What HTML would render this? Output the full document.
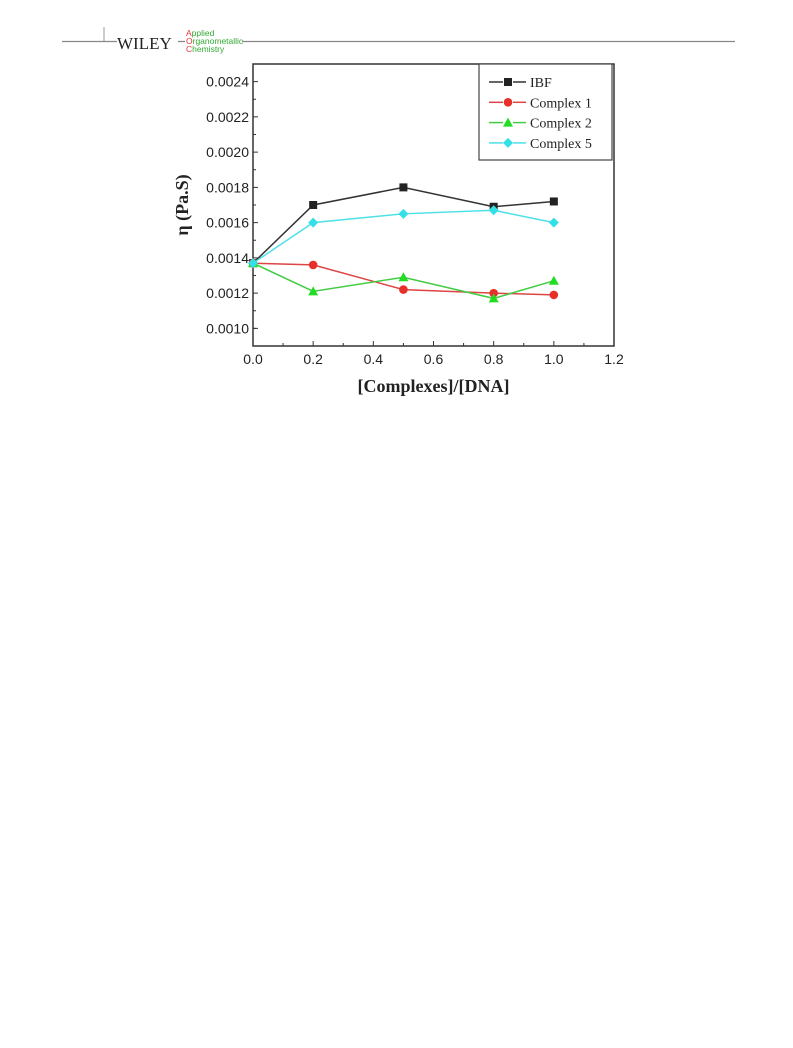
<!DOCTYPE html>
<html><head><meta charset="utf-8"><style>
body{margin:0;background:#fff;width:793px;height:1043px;overflow:hidden;font-family:"Liberation Sans",sans-serif}
</style></head><body>
<svg width="793" height="1043">
<g>
<line x1="62" y1="41.5" x2="117" y2="41.5" stroke="#888" stroke-width="1.3"/>
<line x1="104" y1="27" x2="104" y2="41" stroke="#999" stroke-width="1"/>
<text x="117" y="49" font-family="Liberation Serif" font-size="17" fill="#222">WILEY</text>
<line x1="178" y1="41.5" x2="185" y2="41.5" stroke="#888" stroke-width="1.3"/>
<text font-size="8.5" fill="#3a3"><tspan x="186" y="36"><tspan fill="#e33">A</tspan>pplied</tspan><tspan x="186" y="44"><tspan fill="#e33">O</tspan>rganometallic</tspan><tspan x="186" y="52"><tspan fill="#e33">C</tspan>hemistry</tspan></text>
<line x1="242" y1="41.5" x2="735" y2="41.5" stroke="#888" stroke-width="1.3"/>
</g>
<g id="chart"></g>
</svg>
<script>
const xTicks=[0.0,0.2,0.4,0.6,0.8,1.0,1.2];
const yTicks=[0.0010,0.0012,0.0014,0.0016,0.0018,0.0020,0.0022,0.0024];
const xVals=[0.0,0.2,0.5,0.8,1.0];
const ibf=[0.00137,0.00170,0.00180,0.00169,0.00172];
const complex1=[0.00137,0.00136,0.00122,0.00120,0.00119];
const complex2=[0.00137,0.00121,0.00129,0.00117,0.00127];
const complex5=[0.00137,0.00160,0.00165,0.00167,0.00160];
const seriesNames=["IBF","Complex 1","Complex 2","Complex 5"];
const NS="http://www.w3.org/2000/svg";
const L=253,R=614,T=64,B=346;
const xs=v=>L+(v-0)/1.2*(R-L);
const ys=v=>B-(v-0.0009)/0.0016*(B-T);
const g=document.getElementById('chart');
function mk(tag,at,parent){const e=document.createElementNS(NS,tag);for(const k in at)e.setAttribute(k,at[k]);(parent||g).appendChild(e);return e;}
let f=mk('rect',{x:L,y:T,width:R-L,height:B-T,fill:'none',stroke:'#333','stroke-width':1.5});


xTicks.forEach((t,i)=>{const x=xs(t);
 mk('line',{x1:x,y1:B,x2:x,y2:B-5,stroke:'#333'});
 if(i<xTicks.length-1)mk('line',{x1:xs(t+0.1),y1:B,x2:xs(t+0.1),y2:B-3,stroke:'#333'});
 const tx=mk('text',{x:x,y:B+18,'font-size':14,'text-anchor':'middle',fill:'#222'});tx.textContent=t.toFixed(1);
 
 });
yTicks.forEach(t=>{const y=ys(t);
 mk('line',{x1:L,y1:y,x2:L+5,y2:y,stroke:'#333'});
 mk('line',{x1:L,y1:ys(t+0.0001),x2:L+3,y2:ys(t+0.0001),stroke:'#333'});
 const tx=mk('text',{x:L-4,y:y+5,'font-size':14,'text-anchor':'end',fill:'#222'});tx.textContent=t.toFixed(4);
 
 });
mk('line',{x1:L,y1:ys(0.0009+0.0001),x2:L+3,y2:ys(0.0010),stroke:'#333'});
let xt=mk('text',{x:(L+R)/2,y:392,'font-size':18,'font-weight':'bold','font-family':'Liberation Serif','text-anchor':'middle',fill:'#222'});xt.textContent='[Complexes]/[DNA]';


let yt=mk('text',{x:0,y:0,'font-size':18,'font-weight':'bold','font-family':'Liberation Serif','text-anchor':'middle',fill:'#222',transform:'translate(188,205) rotate(-90)'});yt.textContent='η (Pa.S)';


const colors=["#222","#e8302a","#22dd22","#33e0e8"];
const lineColors=["#333","#d44","#4c4","#4de0e8"];
const markers=["square","circle","triangle","diamond"];
function marker(type,x,y,c,parent){
 if(type==='square')return mk('rect',{x:x-4,y:y-4,width:8,height:8,fill:c},parent);
 if(type==='circle')return mk('circle',{cx:x,cy:y,r:4.3,fill:c},parent);
 if(type==='triangle')return mk('polygon',{points:`${x},${y-5} ${x+5},${y+4} ${x-5},${y+4}`,fill:c},parent);
 return mk('polygon',{points:`${x},${y-5} ${x+5},${y} ${x},${y+5} ${x-5},${y}`,fill:c},parent);}
[ibf,complex1,complex2,complex5].forEach((s,i)=>{
 const sg=mk('g',{});
 
 
 mk('polyline',{points:s.map((v,j)=>xs(xVals[j])+','+ys(v)).join(' '),fill:'none',stroke:lineColors[i],'stroke-width':1.5},sg);
 s.forEach((v,j)=>{const m=marker(markers[i],xs(xVals[j]),ys(v),colors[i],sg);
  
  });
});
const lg=mk('g',{});


mk('rect',{x:479,y:64,width:133,height:96,fill:'#fff',stroke:'#444','stroke-width':1.2},lg);
seriesNames.forEach((n,i)=>{const y=82+i*20.3;
 const eg=mk('g',{},lg);
 
 
 mk('line',{x1:489,y1:y,x2:503,y2:y,stroke:lineColors[i],'stroke-width':1.5},eg);
 mk('line',{x1:513,y1:y,x2:526,y2:y,stroke:lineColors[i],'stroke-width':1.5},eg);
 marker(markers[i],508,y,colors[i],eg);
 const t=mk('text',{x:530,y:y+5,'font-size':14,'font-family':'Liberation Serif',fill:'#222'},eg);t.textContent=n;});
</script>
</body></html>
